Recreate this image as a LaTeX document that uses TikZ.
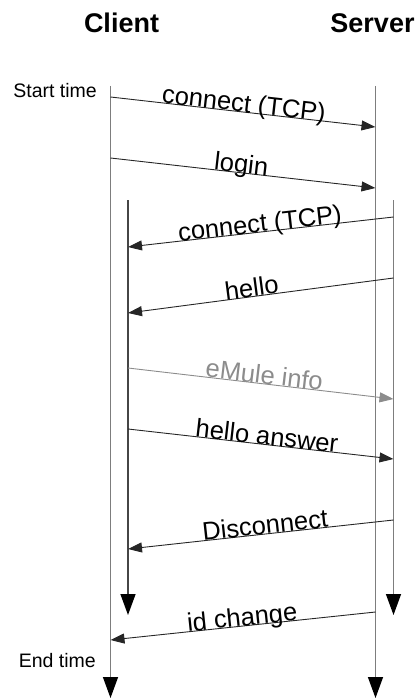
\documentclass[tikz,border=0pt]{standalone}
\usepackage{fontspec}
\setmainfont{Liberation Sans}
\usetikzlibrary{arrows.meta}
\definecolor{lifegray}{RGB}{125,125,125}
\definecolor{lifedark}{RGB}{70,70,70}
\definecolor{infogray}{RGB}{140,140,140}
\tikzset{
  lifeline/.style={draw=lifegray, line width=1.4pt, -{Triangle[length=21pt,width=15pt,black]}},
  darklife/.style={lifeline, draw=lifedark},
  msg/.style={draw=black!85, line width=0.9pt, -{Triangle[length=14pt,width=10pt]}},
  infomsg/.style={msg, draw=infogray, -{Triangle[length=14pt,width=10pt,infogray]}},
  lbl/.style={sloped, anchor=base, inner sep=0pt, font=\fontsize{25.5}{28}\selectfont},
  title/.style={anchor=base, inner sep=0pt, font=\fontsize{27}{30}\selectfont\bfseries},
  timelbl/.style={anchor=base east, inner sep=0pt, font=\fontsize{19.5}{22}\selectfont}
}
\begin{document}
\begin{tikzpicture}[x=1pt, y=-1pt]
\useasboundingbox (0,0) rectangle (416,698);
% titles
\node[title] (client) at (121.5,33) {Client};
\node[title] (server) at (372.5,33) {Server};
\node[timelbl] (start) at (97,98) {Start time};
\node[timelbl] (end) at (96,667) {End time};
% lifeline coordinates
\coordinate (oc1) at (110.5,86);  \coordinate (oc2) at (110.5,698);
\coordinate (os1) at (375.5,86);  \coordinate (os2) at (375.5,698);
\coordinate (ic1) at (128,200);   \coordinate (ic2) at (128,615);
\coordinate (is1) at (393.5,200); \coordinate (is2) at (393.5,615);
\draw[lifeline] (oc1) -- (oc2);
\draw[lifeline] (os1) -- (os2);
\draw[darklife] (ic1) -- (ic2);
\draw[lifeline] (is1) -- (is2);
% message endpoints
\coordinate (a1) at (110.5,97);  \coordinate (b1) at (375.5,127);
\coordinate (a2) at (110.5,158); \coordinate (b2) at (375.5,188);
\coordinate (a3) at (393.5,217); \coordinate (b3) at (128,247);
\coordinate (a4) at (393.5,278); \coordinate (b4) at (128,313);
\coordinate (a5) at (128,368);   \coordinate (b5) at (393.5,399);
\coordinate (a6) at (128,429);   \coordinate (b6) at (393.5,459);
\coordinate (a7) at (393.5,520); \coordinate (b7) at (128,549);
\coordinate (a8) at (375.5,612); \coordinate (b8) at (110.5,640);
\draw[msg] (a1) -- node[lbl, pos=0.5] (l1) {connect (TCP)} (b1);
\draw[msg] (a2) -- node[lbl, pos=0.49] (l2) {login} (b2);
\draw[msg] (a3) -- node[lbl, pos=0.5] (l3) {connect (TCP)} (b3);
\draw[msg] (a4) -- node[lbl, pos=0.53] (l4) {hello} (b4);
\draw[infomsg] (a5) -- node[lbl, pos=0.51, text=infogray] (l5) {eMule info} (b5);
\draw[msg] (a6) -- node[lbl, pos=0.52] (l6) {hello answer} (b6);
\draw[msg] (a7) -- node[lbl, pos=0.48] (l7) {Disconnect} (b7);
\draw[msg] (a8) -- node[lbl, pos=0.5] (l8) {id change} (b8);
\end{tikzpicture}
\end{document}
